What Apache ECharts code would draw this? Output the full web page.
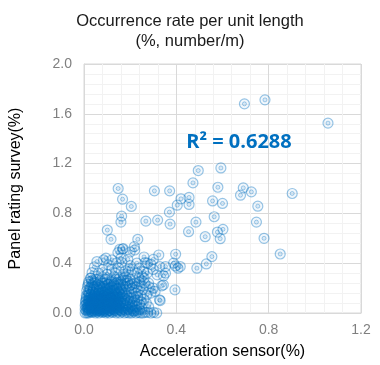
<!DOCTYPE html>
<html>
<head>
<meta charset="utf-8">
<script src="https://cdn.jsdelivr.net/npm/echarts@6/dist/echarts.min.js"></script>
<style>html,body{margin:0;padding:0;background:#fff;}#c{width:380px;height:365px;}</style>
</head>
<body>
<div id="c"></div>
<script>
const titleText = "Occurrence rate per unit length\n(%, number/m)";
const xAxisName = "Acceleration sensor(%)";
const yAxisName = "Panel rating survey(%)";
const rSquaredText = "R\u00B2 = 0.6288";
const xTicks = { min: 0, max: 1.2, interval: 0.4 };
const yTicks = { min: 0, max: 2.0, interval: 0.4 };

// sparse / outlying observations [acceleration sensor, panel survey]
const sparsePoints = [
  [0.695,1.68],[0.784,1.712],[1.057,1.525],[0.495,1.144],[0.593,1.165],[0.472,1.045],
  [0.148,1.0],[0.305,0.981],[0.371,0.981],[0.58,1.01],[0.69,1.005],[0.678,0.946],
  [0.725,0.973],[0.902,0.96],[0.167,0.914],[0.205,0.856],[0.42,0.917],[0.455,0.928],
  [0.404,0.866],[0.455,0.872],[0.557,0.9],[0.6,0.88],[0.753,0.858],[0.163,0.778],
  [0.16,0.73],[0.268,0.738],[0.319,0.746],[0.37,0.81],[0.373,0.714],[0.485,0.73],
  [0.564,0.773],[0.578,0.65],[0.602,0.672],[0.59,0.597],[0.525,0.613],[0.453,0.653],
  [0.747,0.73],[0.78,0.6],[0.85,0.474],[0.101,0.666],[0.117,0.592],[0.233,0.592],
  [0.218,0.533],[0.155,0.512],[0.167,0.514],[0.324,0.466],[0.397,0.472],[0.554,0.453],
  [0.53,0.394],[0.489,0.36],[0.396,0.378],[0.407,0.36],[0.328,0.373],[0.345,0.298],
  [0.394,0.186],[0.327,0.106],[0.276,0.005],[0.302,0.005],
  [0.147,0.485],[0.2,0.49],[0.22,0.506],[0.17,0.517]
];

// dense core near the origin
const corePoints = [
  [0.01,0.02],[0.015,0.05],[0.02,0.01],[0.02,0.08],[0.025,0.03],[0.03,0.06],[0.03,0.11],[0.035,0.02],
  [0.035,0.09],[0.04,0.04],[0.04,0.07],[0.045,0.01],[0.045,0.12],[0.05,0.05],[0.05,0.03],[0.055,0.08],
  [0.055,0.1],[0.06,0.02],[0.06,0.06],[0.065,0.04],[0.065,0.11],[0.07,0.01],[0.07,0.07],[0.075,0.03],
  [0.075,0.09],[0.08,0.05],[0.08,0.12],[0.085,0.02],[0.085,0.07],[0.09,0.04],[0.09,0.1],[0.095,0.01],
  [0.095,0.06],[0.1,0.03],[0.1,0.08],[0.105,0.05],[0.105,0.11],[0.11,0.02],[0.11,0.07],[0.115,0.04],
  [0.12,0.09],[0.12,0.01],[0.125,0.06],[0.13,0.03],[0.13,0.1],[0.135,0.05],[0.14,0.02],[0.14,0.08],
  [0.145,0.04],[0.15,0.06],[0.012,0.04],[0.018,0.1],[0.028,0.07],[0.038,0.05],[0.048,0.09],[0.058,0.04],
  [0.068,0.09],[0.078,0.06],[0.088,0.03],[0.098,0.09],[0.108,0.02],[0.118,0.06],[0.128,0.08],[0.138,0.11],
  [0.022,0.12],[0.042,0.1],[0.062,0.12],[0.082,0.1],[0.102,0.12],[0.032,0.04],[0.052,0.07],[0.072,0.05],
  [0.092,0.07],[0.112,0.1],[0.008,0.07],[0.008,0.1],[0.026,0.09],[0.046,0.06],[0.066,0.02],[0.086,0.05],
  [0.106,0.08],[0.126,0.03],[0.146,0.09],[0.016,0.03],[0.036,0.08],[0.056,0.01],[0.076,0.11],[0.096,0.04],
  [0.116,0.12],[0.136,0.07]
];

const corePoints2 = [
  [0.005,0.03],[0.005,0.06],[0.007,0.09],[0.01,0.12],[0.013,0.0],[0.014,0.07],[0.017,0.14],[0.019,0.04],
  [0.021,0.06],[0.023,0.1],[0.024,0.015],[0.027,0.05],[0.029,0.13],[0.031,0.08],[0.033,0.01],[0.034,0.04],
  [0.037,0.11],[0.039,0.06],[0.041,0.02],[0.043,0.09],[0.044,0.14],[0.047,0.04],[0.049,0.07],[0.051,0.11],
  [0.053,0.02],[0.054,0.05],[0.057,0.13],[0.059,0.08],[0.061,0.03],[0.063,0.1],[0.064,0.06],[0.067,0.15],
  [0.069,0.04],[0.071,0.09],[0.073,0.02],[0.074,0.12],[0.077,0.07],[0.079,0.03],[0.081,0.08],[0.083,0.14],
  [0.084,0.01],[0.087,0.11],[0.089,0.06],[0.091,0.02],[0.093,0.13],[0.094,0.08],[0.097,0.05],[0.099,0.11],
  [0.101,0.01],[0.103,0.07],[0.104,0.14],[0.107,0.04],[0.109,0.09],[0.111,0.05],[0.113,0.12],[0.114,0.02],
  [0.117,0.08],[0.119,0.04],[0.121,0.11],[0.123,0.07],[0.124,0.15],[0.127,0.05],[0.129,0.12],[0.131,0.02],
  [0.133,0.09],[0.134,0.13],[0.137,0.04],[0.139,0.06],[0.141,0.1],[0.143,0.01],[0.144,0.14],[0.147,0.07],
  [0.149,0.11],[0.151,0.03],[0.153,0.13],[0.157,0.08],[0.159,0.02],[0.162,0.11],[0.166,0.04],[0.168,0.15],
  [0.172,0.08],[0.177,0.12],[0.181,0.06],[0.186,0.1],[0.192,0.03],[0.198,0.09],[0.203,0.12],[0.208,0.06],
  [0.212,0.02],[0.218,0.1],[0.227,0.05],[0.233,0.13],[0.242,0.03],[0.248,0.09]
];

// bottom row (survey ~ 0)
const bottomPoints = [
  [0.005,0.0],[0.02,0.0],[0.035,0.005],[0.05,0.0],[0.065,0.0],[0.08,0.005],[0.095,0.0],[0.11,0.0],
  [0.125,0.005],[0.14,0.0],[0.155,0.0],[0.165,0.01],[0.175,0.0],[0.185,0.005],[0.195,0.0],[0.205,0.0],
  [0.215,0.01],[0.225,0.0],[0.235,0.005],[0.245,0.0],[0.255,0.0],[0.265,0.005],[0.29,0.0],[0.315,0.0],
  [0.16,0.02],[0.18,0.02],[0.2,0.015],[0.22,0.02],[0.17,0.03],[0.19,0.03],[0.21,0.035],[0.23,0.02]
];

// mid cluster
const midPoints = [
  [0.155,0.05],[0.16,0.09],[0.165,0.13],[0.17,0.06],[0.175,0.1],[0.18,0.04],[0.185,0.14],[0.19,0.08],
  [0.195,0.12],[0.2,0.05],[0.205,0.17],[0.21,0.09],[0.215,0.13],[0.22,0.06],[0.225,0.16],[0.23,0.1],
  [0.24,0.07],[0.245,0.14],[0.25,0.04],[0.26,0.11],[0.27,0.08],[0.28,0.05],[0.272,0.146],[0.255,0.19],
  [0.235,0.18],[0.195,0.18],[0.175,0.19],[0.155,0.16],[0.16,0.19],
  [0.01,0.14],[0.02,0.17],[0.025,0.2],[0.03,0.15],[0.04,0.13],[0.04,0.19],[0.05,0.16],[0.055,0.21],
  [0.06,0.14],[0.065,0.18],[0.07,0.13],[0.075,0.16],[0.08,0.2],[0.085,0.14],[0.09,0.17],[0.095,0.22],
  [0.1,0.15],[0.105,0.19],[0.11,0.13],[0.115,0.17],[0.12,0.21],[0.125,0.14],[0.13,0.18],[0.135,0.15],
  [0.14,0.2],[0.145,0.13],[0.15,0.17],[0.015,0.21],[0.035,0.22],[0.045,0.15],[0.07,0.21],[0.1,0.2],[0.13,0.22],
  [0.012,0.18],[0.018,0.23],[0.022,0.15],[0.027,0.19],[0.033,0.26],[0.038,0.17],[0.043,0.21],[0.048,0.24],
  [0.053,0.18],[0.058,0.27],[0.062,0.16],[0.067,0.22],[0.072,0.19],[0.078,0.24],[0.083,0.17],[0.088,0.21],
  [0.093,0.27],[0.097,0.18],[0.103,0.23],[0.108,0.16],[0.113,0.2],[0.118,0.25],[0.123,0.18],[0.128,0.23],
  [0.133,0.16],[0.138,0.27],[0.143,0.19],[0.148,0.23],[0.153,0.2],[0.158,0.25],[0.163,0.17],[0.168,0.22],
  [0.173,0.28],[0.178,0.16],[0.183,0.21],[0.188,0.26],[0.198,0.22],[0.208,0.2],[0.218,0.24],[0.228,0.21],
  [0.238,0.28],[0.248,0.22],[0.262,0.24],[0.282,0.21]
];

// upper cluster
const upperPoints = [
  [0.02,0.25],[0.03,0.28],[0.04,0.24],[0.05,0.27],[0.06,0.23],[0.07,0.26],[0.08,0.29],[0.09,0.24],
  [0.1,0.27],[0.11,0.23],[0.12,0.26],[0.13,0.29],[0.14,0.24],[0.15,0.27],[0.16,0.23],[0.17,0.26],
  [0.18,0.29],[0.19,0.24],[0.2,0.27],[0.21,0.23],[0.22,0.26],[0.24,0.25],[0.26,0.28],[0.28,0.24],
  [0.308,0.173],[0.337,0.218],[0.344,0.226],[0.33,0.1],[0.3,0.2],[0.29,0.16],
  [0.028,0.28],[0.035,0.325],[0.063,0.32],[0.107,0.386],[0.136,0.32],[0.193,0.333],[0.229,0.32],
  [0.258,0.333],[0.056,0.413],[0.085,0.426],[0.121,0.426],[0.164,0.405],[0.229,0.4],[0.265,0.405],
  [0.274,0.4],[0.353,0.373],[0.388,0.4],[0.417,0.373],[0.353,0.32],[0.317,0.306],[0.274,0.32],
  [0.252,0.293],[0.08,0.35],[0.1,0.31],[0.15,0.36],[0.17,0.31],[0.2,0.38],[0.21,0.35],[0.045,0.37],
  [0.12,0.35],[0.16,0.44],[0.18,0.34],[0.24,0.36],[0.3,0.35],[0.29,0.39],[0.095,0.44],[0.14,0.4],
  [0.19,0.43],[0.3,0.43],[0.26,0.45]
];

const allPoints = [].concat(sparsePoints, corePoints, corePoints2, bottomPoints, midPoints, upperPoints);

const chart = echarts.init(document.getElementById('c'), null, { renderer: 'canvas' });
const FONT = '"Liberation Sans", Arial, sans-serif';
const gridColor = '#d9d9d9';
chart.setOption({
  animation: false,
  backgroundColor: '#ffffff',
  title: [{
    text: titleText,
    left: 'center',
    top: 6,
    textStyle: { fontFamily: FONT, fontSize: 16.5, fontWeight: 'normal', color: '#1a1a1a', lineHeight: 20 }
  }, {
    text: rSquaredText,
    left: 234,
    top: 127,
    textAlign: 'center',
    textStyle: { fontFamily: '"Open Sans", "Noto Sans", sans-serif', fontSize: 20, fontWeight: 'bold', color: '#0070C0' }
  }],
  grid: { left: 83, right: 19, top: 64, bottom: 52, show: true, borderColor: gridColor, borderWidth: 1 },
  xAxis: {
    type: 'value', min: xTicks.min, max: xTicks.max, interval: xTicks.interval,
    name: xAxisName, nameLocation: 'middle', nameGap: 31,
    nameTextStyle: { fontFamily: FONT, fontSize: 16, color: '#000' },
    axisLine: { show: true, lineStyle: { color: gridColor } },
    axisTick: { show: false },
    axisLabel: { fontFamily: FONT, fontSize: 14, color: '#7f7f7f', margin: 10, formatter: v => v.toFixed(1) },
    splitLine: { show: true, lineStyle: { color: gridColor } },
    minorTick: { show: false, splitNumber: 5 },
    minorSplitLine: { show: true, lineStyle: { color: '#f2f2f2' } }
  },
  yAxis: {
    type: 'value', min: yTicks.min, max: yTicks.max, interval: yTicks.interval,
    name: yAxisName, nameLocation: 'middle', nameGap: 60,
    nameTextStyle: { fontFamily: FONT, fontSize: 16, color: '#000' },
    axisLine: { show: true, lineStyle: { color: gridColor } },
    axisTick: { show: false },
    axisLabel: { fontFamily: FONT, fontSize: 14, color: '#7f7f7f', margin: 12, formatter: v => v.toFixed(1) },
    splitLine: { show: true, lineStyle: { color: gridColor } },
    minorTick: { show: false, splitNumber: 5 },
    minorSplitLine: { show: true, lineStyle: { color: '#f2f2f2' } }
  },
  series: [{
    type: 'scatter',
    data: allPoints,
    symbol: 'circle',
    symbolSize: 10,
    itemStyle: { color: 'rgba(0,112,192,0.07)', borderColor: 'rgba(0,112,192,0.5)', borderWidth: 1.2 }
  }, {
    type: 'scatter',
    data: allPoints,
    symbol: 'circle',
    symbolSize: 4,
    itemStyle: { color: 'rgba(0,112,192,0.12)', borderColor: 'rgba(0,112,192,0.4)', borderWidth: 1 }
  }]
});
</script>
</body>
</html>
